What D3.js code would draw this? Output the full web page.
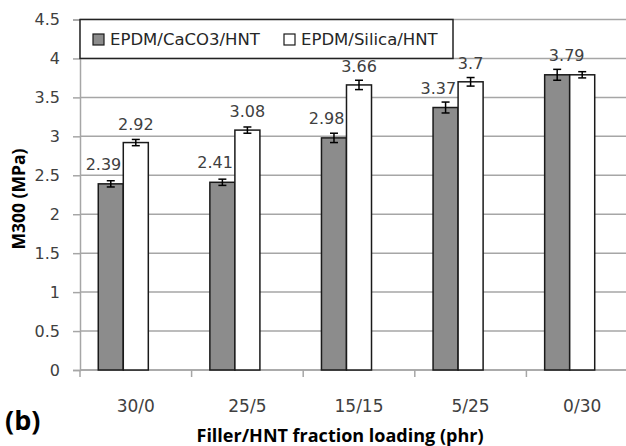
<!DOCTYPE html>
<html>
<head>
<meta charset="utf-8">
<script src="https://cdn.jsdelivr.net/npm/d3@7"></script>
<style>
  body { margin: 0; background: #fff; }
  svg { display: block; font-family: "DejaVu Sans", sans-serif; }
  .ttl { font-family: "Open Sans", sans-serif; font-weight: bold; }
</style>
</head>
<body>
<script>
const categories = ["30/0", "25/5", "15/15", "5/25", "0/30"];
const seriesNames = ["EPDM/CaCO3/HNT", "EPDM/Silica/HNT"];
const caco3Values = [2.39, 2.41, 2.98, 3.37, 3.79];
const silicaValues = [2.92, 3.08, 3.66, 3.7, 3.79];
const caco3Errors = [0.04, 0.04, 0.06, 0.07, 0.07];
const silicaErrors = [0.04, 0.04, 0.06, 0.055, 0.04];
const yTicks = [0, 0.5, 1, 1.5, 2, 2.5, 3, 3.5, 4, 4.5];

const W = 626, H = 446;
const mLeft = 80, mTop = 19.5, mBottom = 370, mRight = 638;

const svg = d3.select("body").append("svg")
    .attr("width", W)
    .attr("height", H);

let x0 = d3.scaleBand()
    .domain(categories)
    .range([mLeft, mRight]);

// excel leaves room for a third (empty) slot in each group
let x1 = d3.scaleBand()
    .domain(["caco3", "silica", "empty"])
    .range([0, x0.bandwidth()])
    .paddingOuter(0.73);

let y = d3.scaleLinear()
    .domain([0, 4.5])
    .range([mBottom, mTop]);

// gridlines
svg.append("g")
    .selectAll("line")
    .data(yTicks)
    .enter()
    .append("line")
    .attr("x1", mLeft)
    .attr("x2", W)
    .attr("y1", d => y(d))
    .attr("y2", d => y(d))
    .attr("stroke", "#a6a6a6")
    .attr("stroke-width", 1.5);

// y axis
let yAxis = svg.append("g")
    .attr("transform", `translate(${mLeft},0)`)
    .call(d3.axisLeft(y).tickValues(yTicks).tickFormat(d3.format("")).tickSize(7).tickPadding(13));
yAxis.select(".domain").attr("stroke", "#a6a6a6").attr("stroke-width", 1.5);
yAxis.selectAll(".tick line").attr("stroke", "#a6a6a6").attr("stroke-width", 1.5);
yAxis.selectAll("text")
    .attr("font-size", 16)
    .attr("fill", "#404040")
    .attr("font-family", "DejaVu Sans, sans-serif");

// x axis: ticks at group boundaries
let xAxis = svg.append("g")
    .attr("transform", `translate(0,${mBottom})`);
xAxis.append("line")
    .attr("x1", mLeft).attr("x2", W)
    .attr("stroke", "#a6a6a6").attr("stroke-width", 1.5);
xAxis.selectAll("line.tk")
    .data(categories)
    .enter()
    .append("line")
    .attr("class", "tk")
    .attr("x1", d => x0(d))
    .attr("x2", d => x0(d))
    .attr("y1", 0)
    .attr("y2", 7)
    .attr("stroke", "#a6a6a6").attr("stroke-width", 1.5);
xAxis.selectAll("text")
    .data(categories)
    .enter()
    .append("text")
    .attr("x", d => x0(d) + x0.bandwidth() / 2)
    .attr("y", 42)
    .attr("text-anchor", "middle")
    .attr("font-size", 17)
    .attr("fill", "#404040")
    .text(d => d);

let rows = categories.map((c, i) => ({
    cat: c,
    bars: [
        { key: "caco3", v: caco3Values[i], e: caco3Errors[i], fill: "#8c8c8c" },
        { key: "silica", v: silicaValues[i], e: silicaErrors[i], fill: "#ffffff" }
    ]
}));

let groups = svg.selectAll("g.grp")
    .data(rows)
    .enter()
    .append("g")
    .attr("class", "grp")
    .attr("transform", d => `translate(${x0(d.cat)},0)`);

groups.selectAll("rect")
    .data(d => d.bars)
    .enter()
    .append("rect")
    .attr("x", d => x1(d.key))
    .attr("y", d => y(d.v))
    .attr("width", x1.bandwidth())
    .attr("height", d => mBottom - y(d.v))
    .attr("fill", d => d.fill)
    .attr("stroke", "#1a1a1a")
    .attr("stroke-width", 1.5);

// error bars
let eb = groups.selectAll("g.err")
    .data(d => d.bars)
    .enter()
    .append("g")
    .attr("class", "err")
    .attr("stroke", "#000")
    .attr("stroke-width", 1.5);
eb.append("line")
    .attr("x1", d => x1(d.key) + x1.bandwidth() / 2)
    .attr("x2", d => x1(d.key) + x1.bandwidth() / 2)
    .attr("y1", d => y(d.v + d.e))
    .attr("y2", d => y(d.v - d.e));
[1, -1].forEach(s => {
    eb.append("line")
        .attr("x1", d => x1(d.key) + x1.bandwidth() / 2 - 4)
        .attr("x2", d => x1(d.key) + x1.bandwidth() / 2 + 4)
        .attr("y1", d => y(d.v + s * d.e))
        .attr("y2", d => y(d.v + s * d.e));
});

// value labels
groups.each(function (d) {
    let g = d3.select(this);
    let a = d.bars[0], b = d.bars[1];
    if (a.v === b.v) {
        g.append("text")
            .attr("x", x1("silica") - 3)
            .attr("y", y(a.v) - 14)
            .attr("text-anchor", "middle")
            .attr("font-size", 16)
            .attr("fill", "#404040")
            .text(a.v);
        return;
    }
    g.append("text")
        .attr("x", x1("caco3") + x1.bandwidth() - 2)
        .attr("y", y(a.v) - 14)
        .attr("text-anchor", "end")
        .attr("font-size", 16)
        .attr("fill", "#404040")
        .text(a.v);
    g.append("text")
        .attr("x", x1("silica") + x1.bandwidth() / 2)
        .attr("y", y(b.v) - 13)
        .attr("text-anchor", "middle")
        .attr("font-size", 16)
        .attr("fill", "#404040")
        .text(b.v);
});

// legend
let lg = svg.append("g");
lg.append("rect")
    .attr("x", 80).attr("y", y(4.5))
    .attr("width", 373).attr("height", y(4) - y(4.5))
    .attr("fill", "#fff")
    .attr("stroke", "#222")
    .attr("stroke-width", 1.5);
let lx = [93, 284];
seriesNames.forEach((name, i) => {
    lg.append("rect")
        .attr("x", lx[i]).attr("y", 34)
        .attr("width", 11).attr("height", 11)
        .attr("fill", i === 0 ? "#8c8c8c" : "#fff")
        .attr("stroke", "#1a1a1a")
        .attr("stroke-width", 1.2);
    lg.append("text")
        .attr("x", lx[i] + 17).attr("y", 45)
        .attr("font-size", 16.5)
        .attr("fill", "#262626")
        .text(name);
});

// axis titles
svg.append("text")
    .attr("class", "ttl")
    .attr("transform", `translate(25,199) rotate(-90)`)
    .attr("text-anchor", "middle")
    .attr("font-size", 17.5)
    .attr("fill", "#000")
    .text("M300 (MPa)");

svg.append("text")
    .attr("class", "ttl")
    .attr("x", 340)
    .attr("y", 442)
    .attr("text-anchor", "middle")
    .attr("font-size", 18)
    .attr("fill", "#000")
    .text("Filler/HNT fraction loading (phr)");

svg.append("text")
    .attr("class", "ttl")
    .attr("x", 5)
    .attr("y", 430)
    .attr("font-size", 27)
    .attr("fill", "#000")
    .text("(b)");
</script>
</body>
</html>
